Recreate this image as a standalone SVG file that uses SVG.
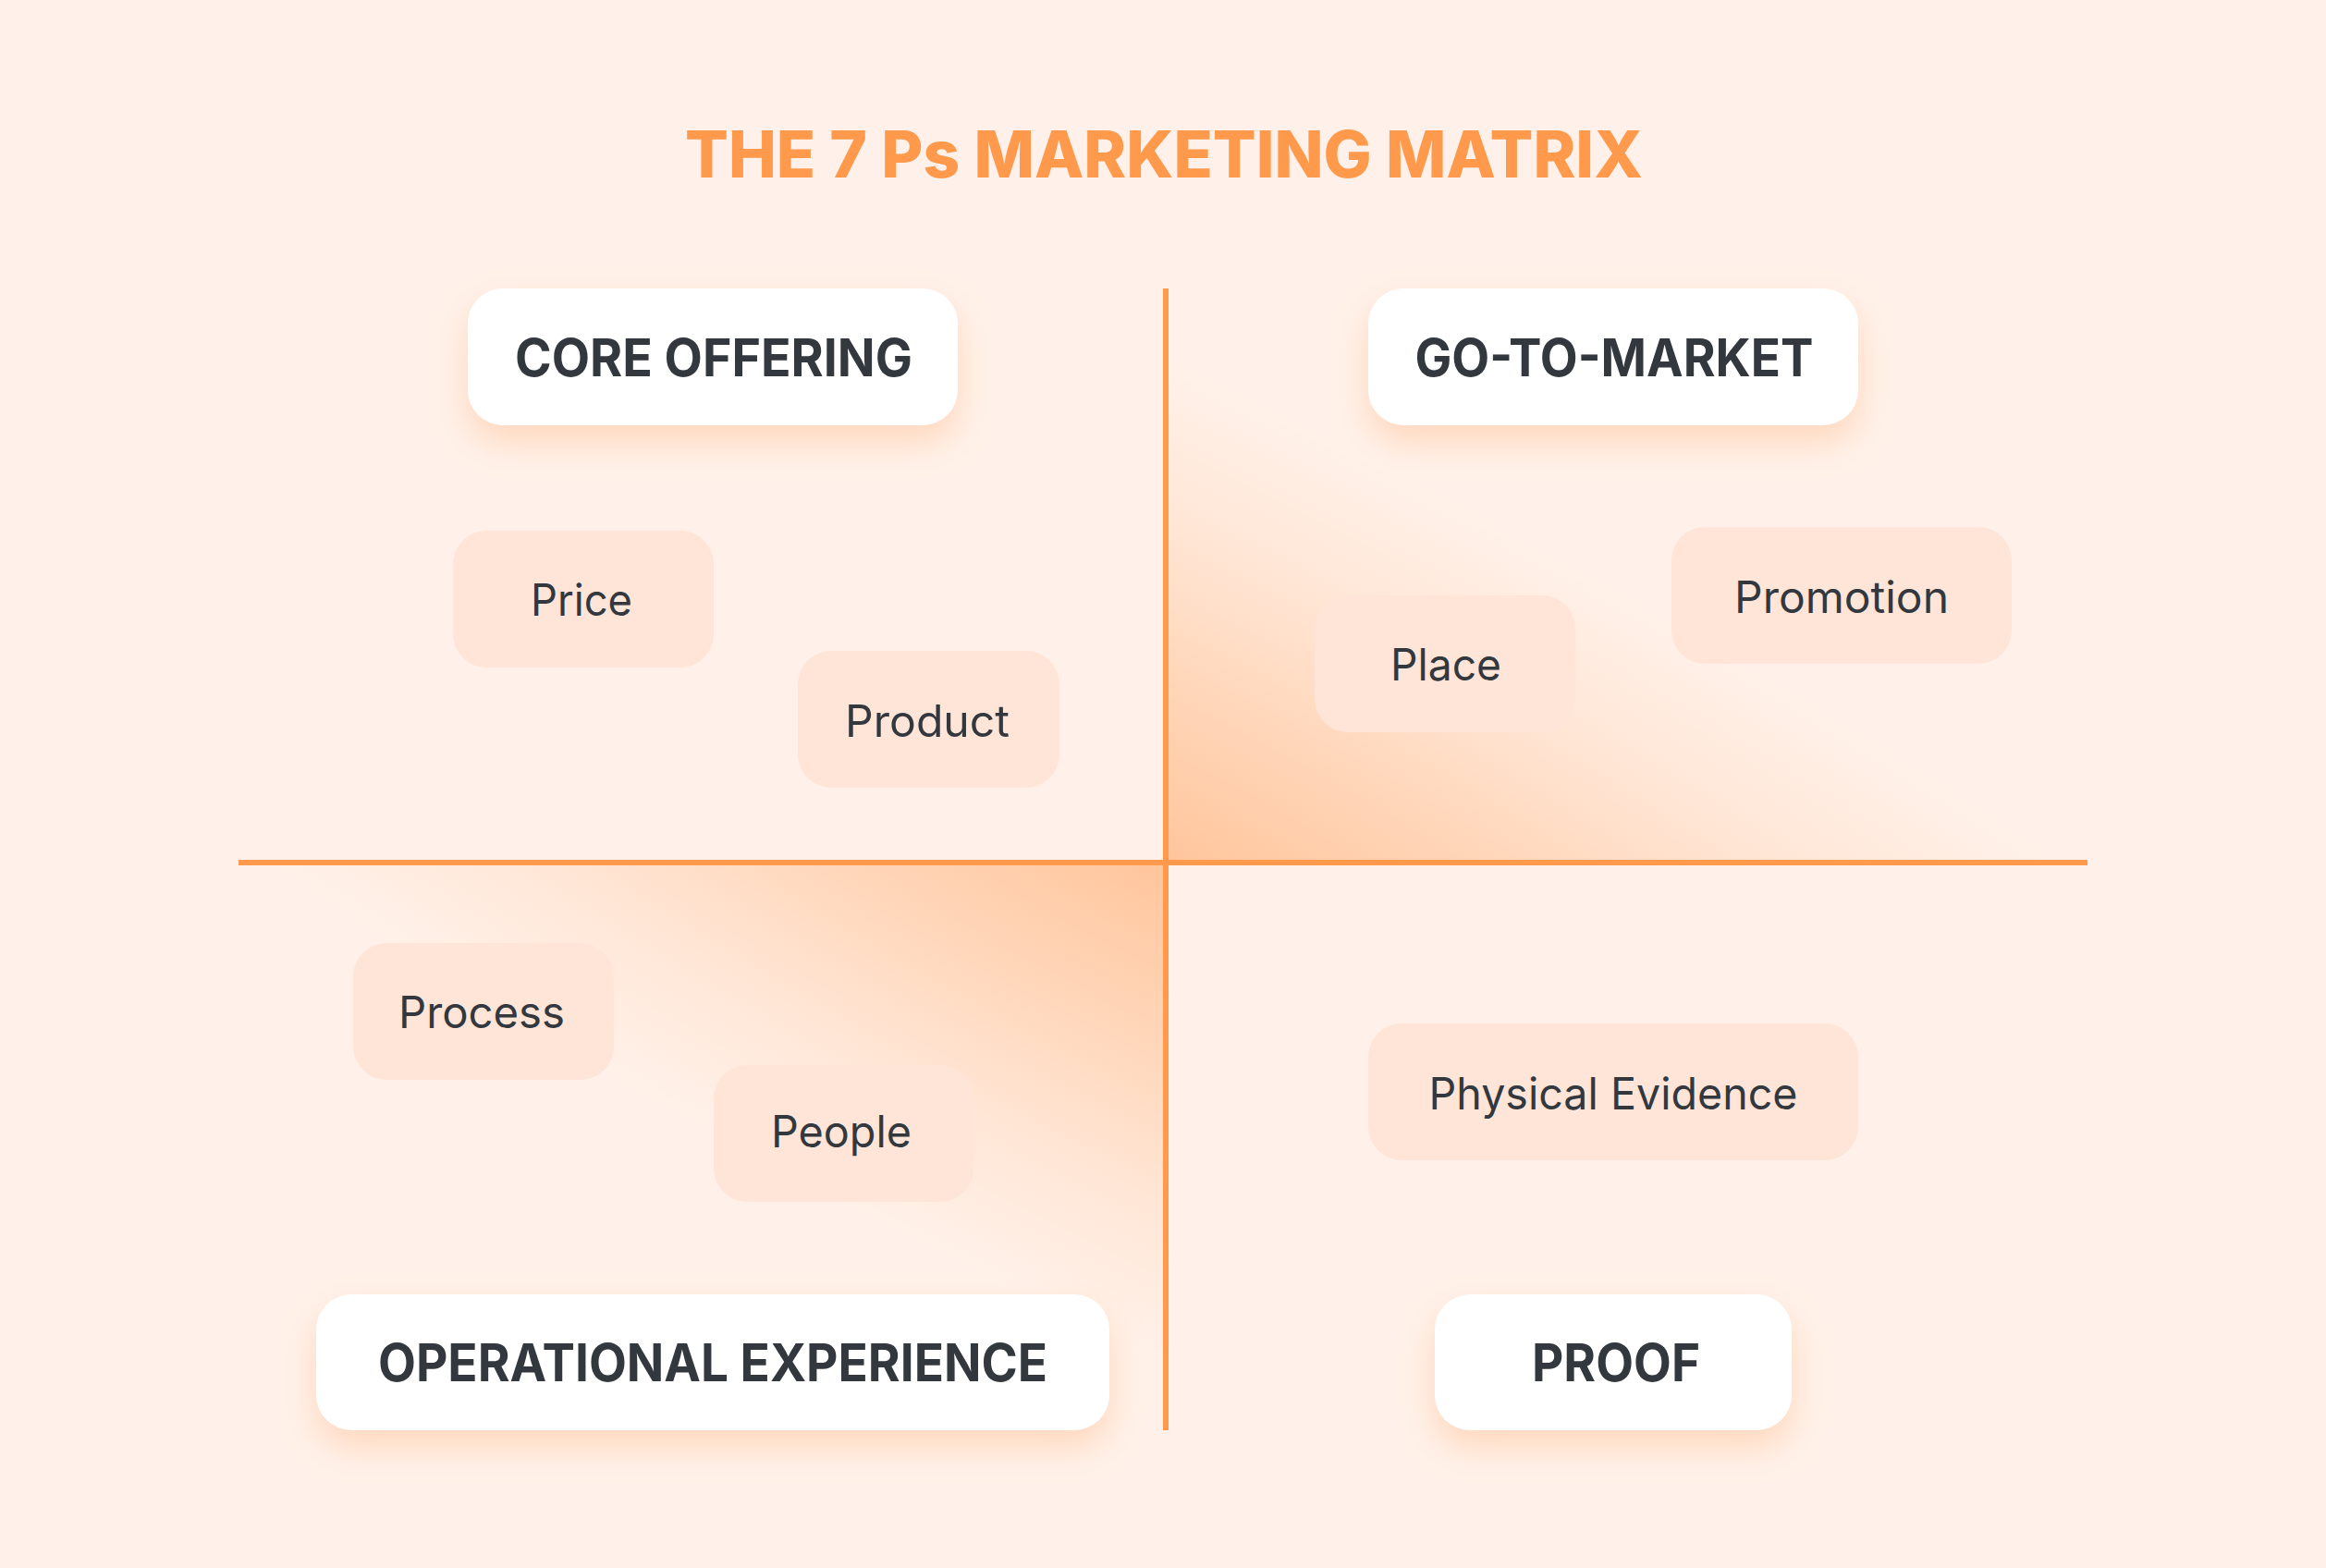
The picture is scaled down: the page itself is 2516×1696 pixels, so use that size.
<svg xmlns="http://www.w3.org/2000/svg" width="2516" height="1696" viewBox="0 0 2516 1696">
  <defs>
    <style>
      .title { font-family: Inter, "Liberation Sans", sans-serif; font-weight: 800; font-size: 70px; fill: #FF9A4D; text-anchor: middle; }
      .head { font-family: Inter, "Liberation Sans", sans-serif; font-weight: 700; font-size: 56px; fill: #33383E; text-anchor: middle; }
      .item { font-family: Inter, "Liberation Sans", sans-serif; font-weight: 400; font-size: 48px; fill: #33383E; text-anchor: middle; }
      .hbox { fill: #FFFFFF; filter: url(#shadow); }
      .ibox { fill: #FFE5D8; }
      .axis { stroke: #FF9A4D; stroke-width: 6; fill: none; }
    </style>
    <filter id="shadow" x="-20%" y="-40%" width="140%" height="200%">
      <feDropShadow dx="0" dy="18" stdDeviation="18" flood-color="#FFB98A" flood-opacity="0.45"/>
    </filter>
    <radialGradient id="glow" gradientUnits="userSpaceOnUse" cx="0" cy="0" r="1" gradientTransform="translate(1261 933) rotate(27) scale(2000 490)">
      <stop offset="0" stop-color="#FFA868" stop-opacity="0.6"/>
      <stop offset="0.35" stop-color="#FFA868" stop-opacity="0.38"/>
      <stop offset="0.7" stop-color="#FFA868" stop-opacity="0.14"/>
      <stop offset="1" stop-color="#FFA868" stop-opacity="0"/>
    </radialGradient>
    <clipPath id="qTR"><rect x="1261" y="200" width="1200" height="733"/></clipPath>
    <clipPath id="qBL"><rect x="100" y="933" width="1161" height="700"/></clipPath>
  </defs>

  <rect x="0" y="0" width="2516" height="1696" fill="#FFF1E9"/>

  <g id="glows">
    <rect x="1261" y="200" width="1200" height="733" fill="url(#glow)" clip-path="url(#qTR)"/>
    <rect x="100" y="933" width="1161" height="700" fill="url(#glow)" clip-path="url(#qBL)"/>
  </g>

  <text id="title" class="title" x="1259" y="192" textLength="1036" lengthAdjust="spacingAndGlyphs">THE 7 Ps MARKETING MATRIX</text>

  <g id="connectors">
    <line class="axis" x1="1261" y1="312" x2="1261" y2="1547"/>
    <line class="axis" x1="258" y1="933" x2="2258" y2="933"/>
  </g>

  <g id="core-offering">
    <rect class="hbox" x="506" y="312" width="530" height="148" rx="38"/>
    <text class="head" x="772" y="407" textLength="430" lengthAdjust="spacingAndGlyphs">CORE OFFERING</text>
  </g>
  <g id="go-to-market">
    <rect class="hbox" x="1480" y="312" width="530" height="148" rx="38"/>
    <text class="head" x="1746" y="407" textLength="431" lengthAdjust="spacingAndGlyphs">GO-TO-MARKET</text>
  </g>
  <g id="operational-experience">
    <rect class="hbox" x="342" y="1400" width="858" height="147" rx="38"/>
    <text class="head" x="771" y="1494" textLength="724" lengthAdjust="spacingAndGlyphs">OPERATIONAL EXPERIENCE</text>
  </g>
  <g id="proof">
    <rect class="hbox" x="1552" y="1400" width="386" height="147" rx="38"/>
    <text class="head" x="1748" y="1494" textLength="182" lengthAdjust="spacingAndGlyphs">PROOF</text>
  </g>

  <g id="price">
    <rect class="ibox" x="490" y="574" width="282" height="148" rx="36"/>
    <text class="item" x="629" y="666" textLength="110" lengthAdjust="spacingAndGlyphs">Price</text>
  </g>
  <g id="product">
    <rect class="ibox" x="863" y="704" width="283" height="148" rx="36"/>
    <text class="item" x="1003" y="797" textLength="178" lengthAdjust="spacingAndGlyphs">Product</text>
  </g>
  <g id="place">
    <rect class="ibox" x="1422" y="644" width="282" height="148" rx="36"/>
    <text class="item" x="1564" y="736" textLength="120" lengthAdjust="spacingAndGlyphs">Place</text>
  </g>
  <g id="promotion">
    <rect class="ibox" x="1808" y="570" width="368" height="148" rx="36"/>
    <text class="item" x="1992" y="663" textLength="232" lengthAdjust="spacingAndGlyphs">Promotion</text>
  </g>
  <g id="process">
    <rect class="ibox" x="382" y="1020" width="282" height="148" rx="36"/>
    <text class="item" x="521" y="1112" textLength="180" lengthAdjust="spacingAndGlyphs">Process</text>
  </g>
  <g id="people">
    <rect class="ibox" x="772" y="1152" width="281" height="148" rx="36"/>
    <text class="item" x="910" y="1241" textLength="152" lengthAdjust="spacingAndGlyphs">People</text>
  </g>
  <g id="physical-evidence">
    <rect class="ibox" x="1480" y="1107" width="530" height="148" rx="36"/>
    <text class="item" x="1745" y="1200" textLength="399" lengthAdjust="spacingAndGlyphs">Physical Evidence</text>
  </g>
</svg>
